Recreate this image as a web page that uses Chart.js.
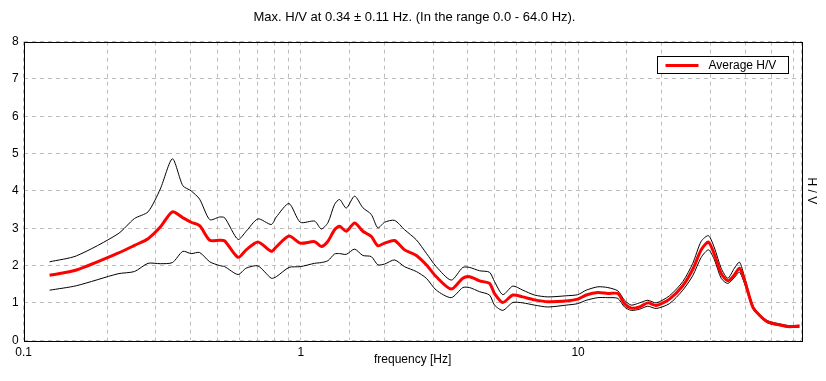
<!DOCTYPE html>
<html>
<head>
<meta charset="utf-8">
<title>H/V</title>
<script src="https://cdn.jsdelivr.net/npm/chart.js"></script>
<style>
  body { margin: 0; background: #fff; }
</style>
</head>
<body>
<canvas id="hv" width="826" height="381"></canvas>
<script>
// frequencies (Hz) and H/V values
const freq = [0.124, 0.155, 0.219, 0.251, 0.281, 0.311, 0.344, 0.375, 0.402, 0.431,
  0.469, 0.509, 0.531, 0.593, 0.635, 0.700, 0.782, 0.815, 0.906, 0.995,
  1.121, 1.185, 1.252, 1.323, 1.379, 1.458, 1.562, 1.673, 1.794, 1.895,
  2.004, 2.177, 2.366, 2.608, 2.834, 3.079, 3.486, 3.838, 4.058, 4.410,
  4.792, 4.995, 5.352, 5.815, 6.318, 6.963, 7.777, 9.06, 9.97, 10.70,
  11.78, 12.80, 13.91, 14.70, 15.54, 16.65, 17.84, 19.12, 21.36, 23.86,
  25.92, 27.80, 29.53, 31.04, 32.81, 34.66, 36.64, 38.20, 39.82, 42.66,
  45.10, 48.32, 53.24, 57.86, 62.87];
const avgHV = [1.74, 1.88, 2.33, 2.54, 2.72, 3.03, 3.44, 3.28, 3.16, 3.07,
  2.68, 2.68, 2.66, 2.22, 2.42, 2.63, 2.38, 2.50, 2.79, 2.60,
  2.64, 2.51, 2.65, 2.96, 3.05, 2.92, 3.14, 2.92, 2.78, 2.53,
  2.60, 2.67, 2.42, 2.27, 2.02, 1.70, 1.37, 1.66, 1.70, 1.59,
  1.52, 1.25, 1.01, 1.21, 1.16, 1.08, 1.03, 1.05, 1.10, 1.21,
  1.28, 1.25, 1.25, 0.98, 0.86, 0.89, 1.00, 0.93, 1.10, 1.46,
  1.90, 2.42, 2.63, 2.29, 1.79, 1.59, 1.75, 1.93, 1.61, 0.89,
  0.67, 0.49, 0.41, 0.36, 0.38];
const upperHV = [2.10, 2.26, 2.85, 3.26, 3.44, 4.05, 4.86, 4.14, 4.00, 3.78,
  3.23, 3.30, 3.28, 2.70, 2.92, 3.25, 3.10, 3.30, 3.66, 3.16,
  3.19, 2.98, 3.15, 3.64, 3.77, 3.54, 3.86, 3.55, 3.37, 3.01,
  3.16, 3.21, 2.96, 2.69, 2.33, 1.97, 1.61, 1.95, 1.95, 1.86,
  1.82, 1.57, 1.22, 1.45, 1.34, 1.21, 1.16, 1.19, 1.22, 1.34,
  1.43, 1.41, 1.32, 1.07, 0.94, 1.00, 1.07, 1.00, 1.19, 1.57,
  2.06, 2.65, 2.80, 2.47, 1.93, 1.66, 1.93, 2.09, 1.70, 0.94,
  0.70, 0.52, 0.44, 0.39, 0.40];
const lowerHV = [1.34, 1.46, 1.78, 1.84, 2.06, 2.05, 2.08, 2.38, 2.32, 2.35,
  2.10, 2.00, 1.97, 1.76, 1.93, 1.99, 1.66, 1.70, 1.95, 1.97,
  2.06, 2.08, 2.13, 2.31, 2.32, 2.30, 2.44, 2.27, 2.24, 2.02,
  2.04, 2.15, 1.97, 1.84, 1.66, 1.34, 1.14, 1.41, 1.41, 1.30,
  1.21, 0.94, 0.80, 1.01, 1.00, 0.94, 0.89, 0.94, 0.98, 1.07,
  1.14, 1.14, 1.12, 0.89, 0.80, 0.83, 0.91, 0.85, 0.98, 1.34,
  1.73, 2.22, 2.42, 2.15, 1.66, 1.52, 1.68, 1.82, 1.52, 0.85,
  0.64, 0.46, 0.39, 0.34, 0.35];
const xLabelTicks = [0.1, 1, 10];

const FONT = 'Liberation Sans, Arial, sans-serif';
Chart.defaults.color = '#000';
Chart.defaults.font.family = FONT;
Chart.defaults.font.size = 12;

const pts = arr => freq.map((f, i) => ({ x: f, y: arr[i] }));

// black frame around the plot area
const frame = {
  id: 'frame',
  afterDatasetsDraw(chart) {
    const { ctx, chartArea: a } = chart;
    ctx.save();
    ctx.strokeStyle = '#000';
    ctx.lineWidth = 1;
    ctx.strokeRect(Math.round(a.left) + 0.5, Math.round(a.top) + 0.5,
      Math.round(a.right - a.left), Math.round(a.bottom - a.top));
    ctx.restore();
  }
};

// boxed legend in the upper right corner
const boxLegend = {
  id: 'boxLegend',
  afterDraw(chart) {
    const { ctx, chartArea: a } = chart;
    const ds = chart.data.datasets[0];
    const w = 131, h = 17;
    const x = Math.round(a.right) - 145 + 0.5, y = Math.round(a.top) + 14 + 0.5;
    ctx.save();
    ctx.fillStyle = '#fff';
    ctx.fillRect(x, y, w, h);
    ctx.strokeStyle = '#000';
    ctx.lineWidth = 1;
    ctx.strokeRect(x, y, w, h);
    ctx.strokeStyle = ds.borderColor;
    ctx.lineWidth = 3;
    ctx.beginPath();
    ctx.moveTo(x + 8, y + 9);
    ctx.lineTo(x + 41, y + 9);
    ctx.stroke();
    ctx.fillStyle = '#000';
    ctx.font = '12px ' + FONT;
    ctx.textBaseline = 'middle';
    ctx.fillText(ds.label, x + 51, y + 9);
    ctx.restore();
  }
};

const gridColor = '#bdbdbd';

new Chart(document.getElementById('hv'), {
  type: 'line',
  data: {
    datasets: [
      { label: 'Average H/V', data: pts(avgHV), borderColor: '#ff0000', borderWidth: 3 },
      { label: '', data: pts(upperHV), borderColor: '#000', borderWidth: 1 },
      { label: '', data: pts(lowerHV), borderColor: '#000', borderWidth: 1 }
    ]
  },
  options: {
    responsive: false,
    animation: false,
    elements: {
      point: { radius: 0 },
      line: { tension: 0.25, fill: false }
    },
    layout: { padding: { left: 7, right: 4, top: 0, bottom: 14 } },
    plugins: {
      legend: { display: false },
      tooltip: { enabled: false },
      title: {
        display: true,
        text: 'Max. H/V at 0.34 \u00b1 0.11 Hz. (In the range 0.0 - 64.0 Hz).',
        font: { size: 13, weight: 'normal' },
        color: '#000',
        padding: { top: 10, bottom: 16 }
      }
    },
    scales: {
      x: {
        type: 'logarithmic',
        min: 0.1,
        max: 64,
        grid: { color: gridColor, drawTicks: false },
        border: { display: false, dash: [4, 4] },
        ticks: {
          autoSkip: false,
          maxRotation: 0,
          minRotation: 0,
          padding: 5,
          callback: v => {
            const l = Math.log10(v);
            return xLabelTicks.some(t => Math.abs(Math.log10(t) - l) < 1e-6) ? String(+v.toPrecision(3)) : '';
          }
        },
        title: { display: true, text: 'frequency [Hz]', padding: { top: -12, bottom: 0 } }
      },
      y: {
        min: 0,
        max: 8,
        grid: { color: gridColor, drawTicks: false },
        border: { display: false, dash: [4, 4] },
        ticks: { stepSize: 1, padding: 5 }
      },
      y2: {
        position: 'right',
        min: 0,
        max: 8,
        grid: { display: false, drawTicks: false },
        border: { display: false },
        ticks: { display: false },
        title: { display: true, text: 'H / V', padding: 3 }
      }
    }
  },
  plugins: [frame, boxLegend]
});
</script>
</body>
</html>
